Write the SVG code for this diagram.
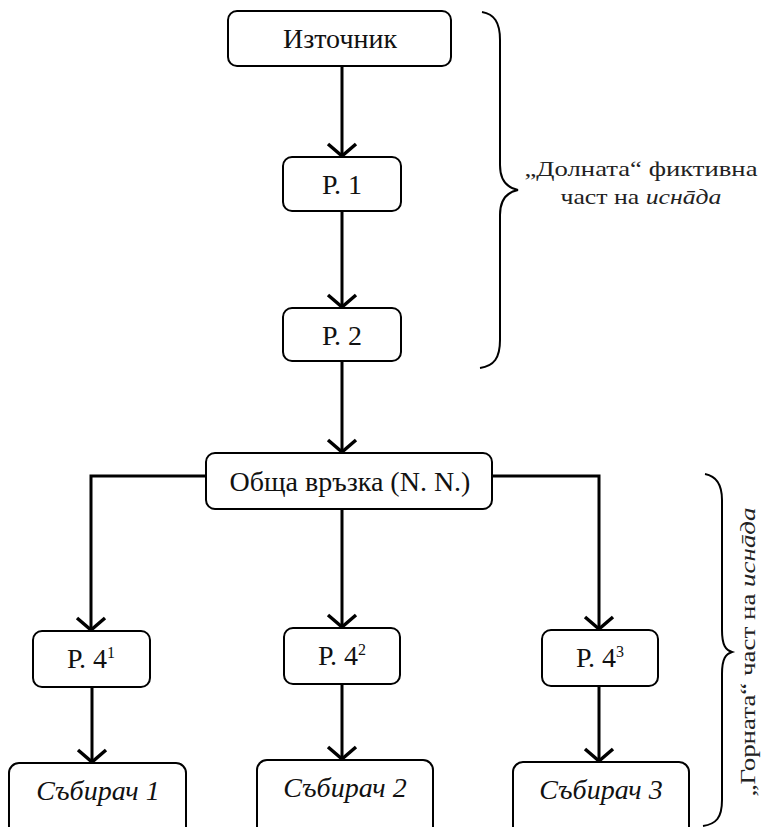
<svg xmlns="http://www.w3.org/2000/svg" width="766" height="827" viewBox="0 0 766 827">
<style>
text{font-family:'Liberation Serif','Times New Roman','DejaVu Serif',serif}
.box{fill:#fff;stroke:#000;stroke-width:2}
.t{font-size:28px;fill:#111;text-anchor:middle}
.i{font-style:italic}
.c{fill:none;stroke:#000;stroke-width:3}
.a{fill:none;stroke:#000;stroke-width:3.5}
.br{fill:none;stroke:#000;stroke-width:2}
.lb{font-size:21px;fill:#222;text-anchor:middle}
</style>
<rect width="766" height="827" fill="#fff"/>
<g id="connectors">
<path class="c" d="M342 66V156M342 211V307M342 361V452M206 476H91V630M342 509V627M492 476H599V629M92 687V762M342 684V759M599 686V761"/>
<path class="a" d="M328 144L342 156L356 144M328 295L342 307L356 295M328 440L342 452L356 440M77 618L91 630L105 618M328 615L342 627L356 615M585 617L599 629L613 617M78 750L92 762L106 750M328 747L342 759L356 747M585 749L599 761L613 749"/>
</g>
<g id="n-source"><rect class="box" x="228" y="11" width="223" height="55" rx="9"/><text class="t" x="340" y="48">Източник</text></g>
<g id="n-r1"><rect class="box" x="283" y="157" width="118" height="54" rx="9"/><text class="t" x="342" y="194">Р. 1</text></g>
<g id="n-r2"><rect class="box" x="283" y="308" width="118" height="53" rx="9"/><text class="t" x="342" y="345">Р. 2</text></g>
<g id="n-common"><rect class="box" x="206" y="453" width="286" height="56" rx="9"/><text class="t" x="350" y="491">Обща връзка (N. N.)</text></g>
<g id="n-r41"><rect class="box" x="33" y="631" width="117" height="56" rx="9"/><text class="t" x="91" y="668">Р. 4<tspan font-size="16" dy="-10">1</tspan></text></g>
<g id="n-r42"><rect class="box" x="284" y="628" width="116" height="56" rx="9"/><text class="t" x="342" y="665">Р. 4<tspan font-size="16" dy="-10">2</tspan></text></g>
<g id="n-r43"><rect class="box" x="542" y="630" width="116" height="56" rx="9"/><text class="t" x="600" y="667">Р. 4<tspan font-size="16" dy="-10">3</tspan></text></g>
<g id="n-c1"><rect class="box" x="9" y="763" width="177" height="80" rx="10"/><text class="t i" x="98" y="800">Събирач 1</text></g>
<g id="n-c2"><rect class="box" x="257" y="760" width="176" height="80" rx="10"/><text class="t i" x="345" y="797">Събирач 2</text></g>
<g id="n-c3"><rect class="box" x="513" y="762" width="176" height="80" rx="10"/><text class="t i" x="601" y="799">Събирач 3</text></g>
<g id="brace-lower">
<path class="br" d="M482 12C494 14 500 22 500 40V165C500 182 508 188 518 190C508 192 500 198 500 215V340C500 358 494 366 480 368"/>
<text class="lb" x="641" y="176" textLength="233" lengthAdjust="spacingAndGlyphs">„Долната“ фиктивна</text>
<text class="lb" x="641" y="204" textLength="161" lengthAdjust="spacingAndGlyphs">част на <tspan font-style="italic">иснāда</tspan></text>
</g>
<g id="brace-upper">
<path class="br" d="M705 474C716 476 722 484 722 500V630C722 646 726 650 732 652C726 654 722 658 722 674V800C722 818 716 824 703 826"/>
<text class="lb" transform="translate(755 652) rotate(-90)" x="0" y="0" textLength="289" lengthAdjust="spacingAndGlyphs">„Горната“  част на <tspan font-style="italic">иснāда</tspan></text>
</g>
</svg>
